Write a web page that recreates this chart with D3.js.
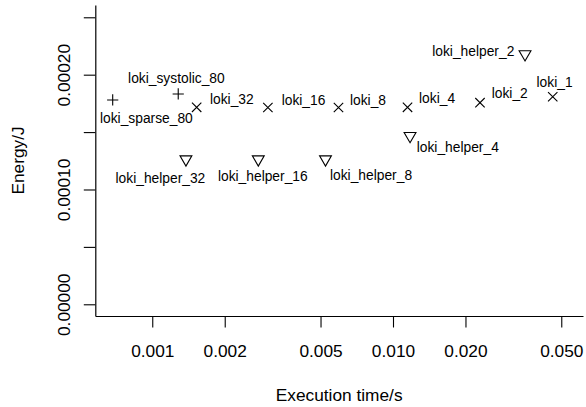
<!DOCTYPE html>
<html>
<head>
<meta charset="utf-8">
<script src="https://cdn.jsdelivr.net/npm/d3@7"></script>
<style>
  html, body { margin: 0; padding: 0; background: #fff; }
  svg { display: block; font-family: "Liberation Sans", Arial, Helvetica, sans-serif; }
</style>
</head>
<body>
<svg id="chart" width="586" height="407"></svg>
<script>
// ---- data ----
const names = ["loki_sparse_80", "loki_systolic_80",
  "loki_32", "loki_16", "loki_8", "loki_4", "loki_2", "loki_1",
  "loki_helper_32", "loki_helper_16", "loki_helper_8", "loki_helper_4", "loki_helper_2"];
const kinds = ["plus", "plus",
  "cross", "cross", "cross", "cross", "cross", "cross",
  "tri", "tri", "tri", "tri", "tri"];
const times = [0.000685, 0.001282,
  0.001529, 0.003022, 0.005937, 0.01149, 0.02298, 0.04608,
  0.00138, 0.002757, 0.005243, 0.01177, 0.03535];
const energies = [0.0001780, 0.0001832,
  0.0001716, 0.0001714, 0.0001714, 0.0001716, 0.0001756, 0.0001808,
  0.0001263, 0.0001263, 0.0001263, 0.0001467, 0.0002179];
const xTicks = [0.001, 0.002, 0.005, 0.01, 0.02, 0.05];
const xTickLabels = ["0.001", "0.002", "0.005", "0.010", "0.020", "0.050"];
const yTicks = [0, 0.00005, 0.0001, 0.00015, 0.0002, 0.00025];
const yTickLabels = ["0.00000", "", "0.00010", "", "0.00020", ""];
const xTitle = "Execution time/s";
const yTitle = "Energy/J";

// ---- label placement (layout, in pixels) ----
const labelLayout = [
  {anchor: "start", dx: -12.7, dy: 23.3},
  {anchor: "middle", dx: -1.8, dy: -11.3},
  {anchor: "start", dx: 13.3, dy: -3.3},
  {anchor: "start", dx: 13.8, dy: -2.5},
  {anchor: "start", dx: 11.5, dy: -2.5},
  {anchor: "start", dx: 11.5, dy: -4.3},
  {anchor: "start", dx: 11.7, dy: -4.4},
  {anchor: "middle", dx: 1.8, dy: -10},
  {anchor: "middle", dx: -25.5, dy: 24},
  {anchor: "middle", dx: 4.5, dy: 22},
  {anchor: "start", dx: 4.5, dy: 21},
  {anchor: "start", dx: 6.7, dy: 16},
  {anchor: "end", dx: -10.7, dy: 1.5}
];

const svg = d3.select("#chart");
const L = 95.3, R = 583, T = 5, B = 316;
const axisFont = 17.3, labelFont = 13.8;

const x = d3.scaleLog().domain([0.00058, 0.06155]).range([L, R]);
const y = d3.scaleLinear().domain([-0.0000102, 0.0002607]).range([B, T]);

// x axis
const xAxis = d3.axisBottom(x).tickValues(xTicks).tickSize(11.5).tickSizeOuter(0)
  .tickFormat((d, i) => xTickLabels[i]).tickPadding(0);
const gx = svg.append("g").attr("transform", `translate(0,${B})`).call(xAxis);
gx.select(".domain").attr("stroke", "#000").attr("stroke-width", 1.2);
gx.selectAll(".tick line").attr("stroke", "#000").attr("stroke-width", 1.1);
gx.selectAll(".tick text").attr("fill", "#000").style("font-size", axisFont + "px")
  .attr("font-family", null).attr("y", 41).attr("dy", null);

// y axis
const yAxis = d3.axisLeft(y).tickValues(yTicks).tickSize(11.5).tickSizeOuter(0)
  .tickFormat((d, i) => yTickLabels[i]);
const gy = svg.append("g").attr("transform", `translate(${L},0)`).call(yAxis);
gy.select(".domain").attr("stroke", "#000").attr("stroke-width", 1.2);
gy.selectAll(".tick line").attr("stroke", "#000").attr("stroke-width", 1.1);
gy.selectAll(".tick text").attr("fill", "#000").style("font-size", axisFont + "px")
  .attr("font-family", null)
  .attr("x", null).attr("dy", null)
  .attr("text-anchor", "middle")
  .attr("transform", "translate(-25.3,0) rotate(-90)");

// titles
svg.append("text").attr("x", (L + R) / 2).attr("y", 401)
  .attr("text-anchor", "middle").style("font-size", axisFont + "px").text(xTitle);
svg.append("text").attr("transform", `translate(24.3,${(T + B) / 2}) rotate(-90)`)
  .attr("text-anchor", "middle").style("font-size", axisFont + "px").text(yTitle);

// points
const idx = d3.range(names.length);
const g = svg.append("g").attr("fill", "none").attr("stroke", "#000").attr("stroke-width", 1.1);
const plusH = 5.6, crossH = 4.7, triXc = 4.4;
idx.forEach(i => {
  const px = x(times[i]), py = y(energies[i]);
  const k = kinds[i];
  let d;
  if (k === "plus") {
    d = `M${px - plusH},${py}H${px + plusH}M${px},${py - plusH}V${py + plusH}`;
  } else if (k === "cross") {
    d = `M${px - crossH},${py - crossH}L${px + crossH},${py + crossH}M${px - crossH},${py + crossH}L${px + crossH},${py - crossH}`;
  } else {
    const r = 1.5551 * triXc, hw = 1.3468 * triXc, yc = 0.7776 * triXc;
    d = `M${px},${py + r}L${px + hw},${py - yc}L${px - hw},${py - yc}Z`;
  }
  g.append("path").attr("d", d);
});

// labels
idx.forEach(i => {
  const lay = labelLayout[i];
  svg.append("text")
    .attr("x", x(times[i]) + lay.dx)
    .attr("y", y(energies[i]) + lay.dy)
    .attr("text-anchor", lay.anchor)
    .style("font-size", labelFont + "px")
    .attr("fill", "#000")
    .text(names[i]);
});
</script>
</body>
</html>
